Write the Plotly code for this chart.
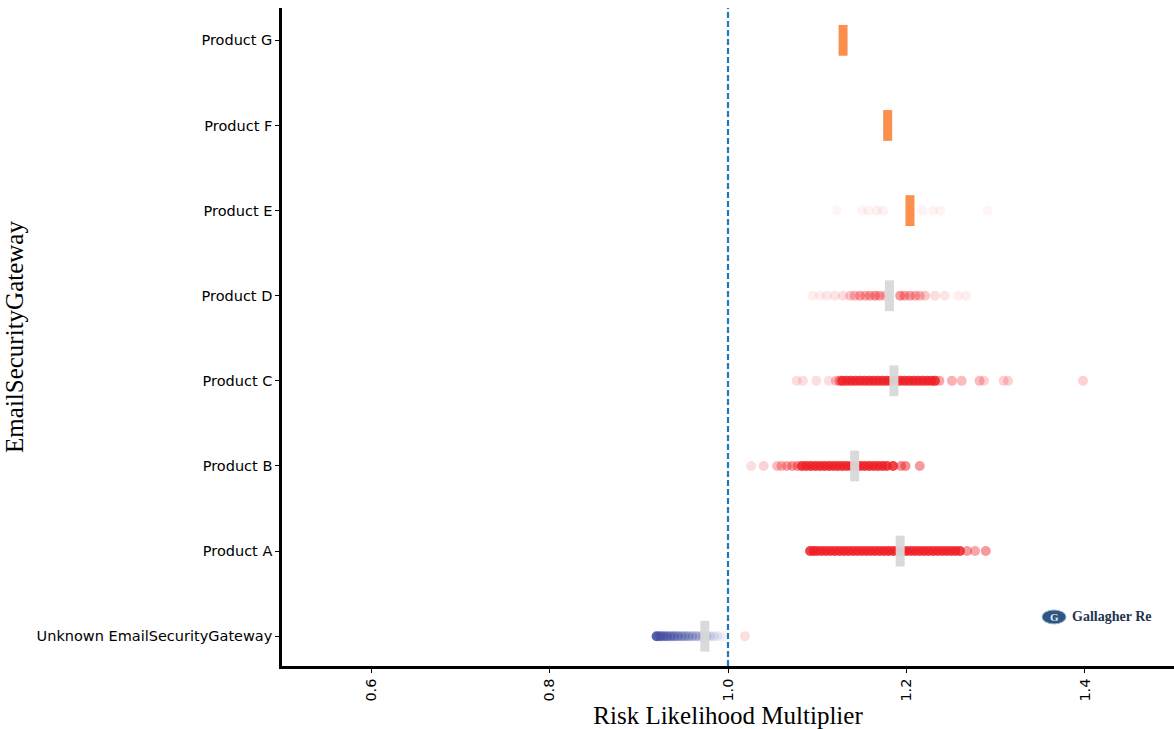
import plotly.graph_objects as go

# ---------------- data ----------------
categories = ["Unknown EmailSecurityGateway", "Product A", "Product B", "Product C",
              "Product D", "Product E", "Product F", "Product G"]

unknown_x = [0.920, 0.924, 0.928, 0.932, 0.936, 0.940, 0.944, 0.948, 0.952, 0.956,
             0.960, 0.964, 0.968, 0.972, 0.976, 0.980, 0.984, 0.988, 0.992, 0.996,
             1.019]
unknown_a = [0.90, 0.80, 0.70, 0.65, 0.60, 0.55, 0.50, 0.45, 0.42, 0.38,
             0.34, 0.30, 0.26, 0.22, 0.18, 0.15, 0.12, 0.09, 0.06, 0.04,
             0.15]

a_x = [1.092, 1.096, 1.100, 1.105, 1.110, 1.115, 1.120, 1.125, 1.130, 1.135, 1.140,
       1.145, 1.150, 1.155, 1.160, 1.165, 1.170, 1.175, 1.180, 1.185, 1.190, 1.195,
       1.200, 1.205, 1.210, 1.215, 1.220, 1.225, 1.230, 1.235, 1.240, 1.245, 1.250,
       1.255, 1.260, 1.268, 1.277, 1.289]
a_a = [0.85] * 35 + [0.45, 0.40, 0.45]

b_x = [1.026, 1.040, 1.055, 1.060, 1.066, 1.072, 1.078, 1.083, 1.088, 1.093, 1.098,
       1.103, 1.108, 1.113, 1.118, 1.123, 1.128, 1.133, 1.138, 1.143, 1.148, 1.153,
       1.158, 1.163, 1.168, 1.173, 1.178, 1.185, 1.194, 1.199, 1.215]
b_a = [0.15, 0.20, 0.30, 0.35, 0.40, 0.45, 0.50] + [0.85] * 21 + [0.50, 0.50, 0.45]

c_x = [1.077, 1.084, 1.099, 1.113, 1.121, 1.125, 1.128, 1.133, 1.138, 1.143, 1.148,
       1.153, 1.158, 1.163, 1.168, 1.173, 1.178, 1.183, 1.188, 1.193, 1.198, 1.203,
       1.208, 1.213, 1.218, 1.223, 1.228, 1.232, 1.237, 1.251, 1.262, 1.282, 1.287,
       1.309, 1.314, 1.398]
c_a = [0.15, 0.15, 0.15, 0.15, 0.30, 0.50] + [0.85] * 22 + [0.40, 0.35, 0.30, 0.30,
                                                           0.20, 0.20, 0.20, 0.20]

d_x = [1.095, 1.103, 1.111, 1.120, 1.129, 1.137, 1.142, 1.148, 1.154, 1.159, 1.165,
       1.170, 1.176, 1.193, 1.198, 1.204, 1.210, 1.215, 1.221, 1.232, 1.243, 1.258,
       1.267]
d_a = [0.08, 0.08, 0.10, 0.12, 0.15, 0.25, 0.30, 0.40, 0.35, 0.40, 0.45, 0.40, 0.30,
       0.45, 0.40, 0.40, 0.35, 0.30, 0.25, 0.15, 0.12, 0.08, 0.08]

e_x = [1.122, 1.150, 1.157, 1.167, 1.174, 1.218, 1.230, 1.238, 1.291]
e_a = [0.04, 0.05, 0.06, 0.07, 0.06, 0.06, 0.06, 0.05, 0.04]

centre_values = [0.974, 1.193, 1.142, 1.186, 1.181, 1.204, 1.179, 1.129]
centre_kind = ["median", "median", "median", "median", "median", "mean", "mean", "mean"]

x_ticks = [0.6, 0.8, 1.0, 1.2, 1.4]
x_title = "Risk Likelihood Multiplier"
y_title = "EmailSecurityGateway"
reference_line = 1.0

# ---------------- styling ----------------
RED = (238, 32, 38)
BLUE = (68, 78, 162)
serif = "Liberation Serif"
sans = "DejaVu Sans"


def rgba(base, a):
    return f"rgba({base[0]},{base[1]},{base[2]},{a})"


fig = go.Figure()

series = [
    (categories[0], unknown_x, unknown_a),
    (categories[1], a_x, a_a),
    (categories[2], b_x, b_a),
    (categories[3], c_x, c_a),
    (categories[4], d_x, d_a),
    (categories[5], e_x, e_a),
]

for cat, xs, alphas in series:
    cols = [rgba(BLUE if x < reference_line else RED, a) for x, a in zip(xs, alphas)]
    fig.add_trace(go.Scatter(
        x=xs, y=[cat] * len(xs), mode="markers",
        marker=dict(size=10, color=cols, line=dict(width=0)),
        showlegend=False, hoverinfo="x+y"))

centre_cols = ["rgba(216,216,216,0.95)" if k == "median" else "#fb8f4d" for k in centre_kind]
fig.add_trace(go.Scatter(
    x=centre_values, y=categories, mode="markers",
    marker=dict(symbol="line-ns", size=22, line=dict(width=9, color=centre_cols)),
    showlegend=False, hoverinfo="x+y"))

fig.add_shape(type="line", xref="x", yref="paper", x0=reference_line, x1=reference_line,
              y0=0, y1=1, line=dict(color="#1f77b4", width=2.2, dash="6px,3px"))

# logo
fig.add_shape(type="circle", xref="paper", yref="paper", xsizemode="pixel", ysizemode="pixel",
              xanchor=0.8655, yanchor=0.0745, x0=-12, x1=12, y0=-7, y1=7,
              fillcolor="#2f5583", line=dict(color="#9fb6d0", width=1))
fig.add_annotation(xref="paper", yref="paper", x=0.8655, y=0.0745, text="<b>G</b>",
                   xanchor="center", yanchor="middle",
                   showarrow=False, font=dict(family=serif, size=11, color="#dfe8f2"))
fig.add_annotation(xref="paper", yref="paper", x=0.9295, y=0.0745, text="<b>Gallagher Re</b>",
                   xanchor="center", yanchor="middle",
                   showarrow=False, font=dict(family=serif, size=14, color="#24344f"))

fig.update_layout(
    width=1174, height=729,
    margin=dict(l=282, r=0, t=8, b=63),
    paper_bgcolor="white", plot_bgcolor="white",
    font=dict(family=sans, size=14.5, color="black"),
    xaxis=dict(range=[0.5, 1.5], tickvals=x_ticks, ticktext=[f"{v:.1f}" for v in x_ticks],
               tickangle=-90, ticks="outside", ticklen=4, tickwidth=1, tickcolor="black",
               showgrid=False, zeroline=False, showline=True, linecolor="black", linewidth=2.5,
               tickfont=dict(family=sans, size=14.5),
               title=dict(text=x_title, font=dict(family=serif, size=25), standoff=5)),
    yaxis=dict(type="category", categoryorder="array", categoryarray=categories,
               range=[-0.35, 7.38], ticks="outside", ticklen=4, tickwidth=1, tickcolor="black",
               showgrid=False, zeroline=False, showline=True, linecolor="black", linewidth=2.5,
               tickfont=dict(family=sans, size=14.5),
               title=dict(text=y_title, font=dict(family=serif, size=25), standoff=6)),
)

fig.write_html("out.html", post_script="document.body.style.margin='0px';",
               config={"displayModeBar": False})
